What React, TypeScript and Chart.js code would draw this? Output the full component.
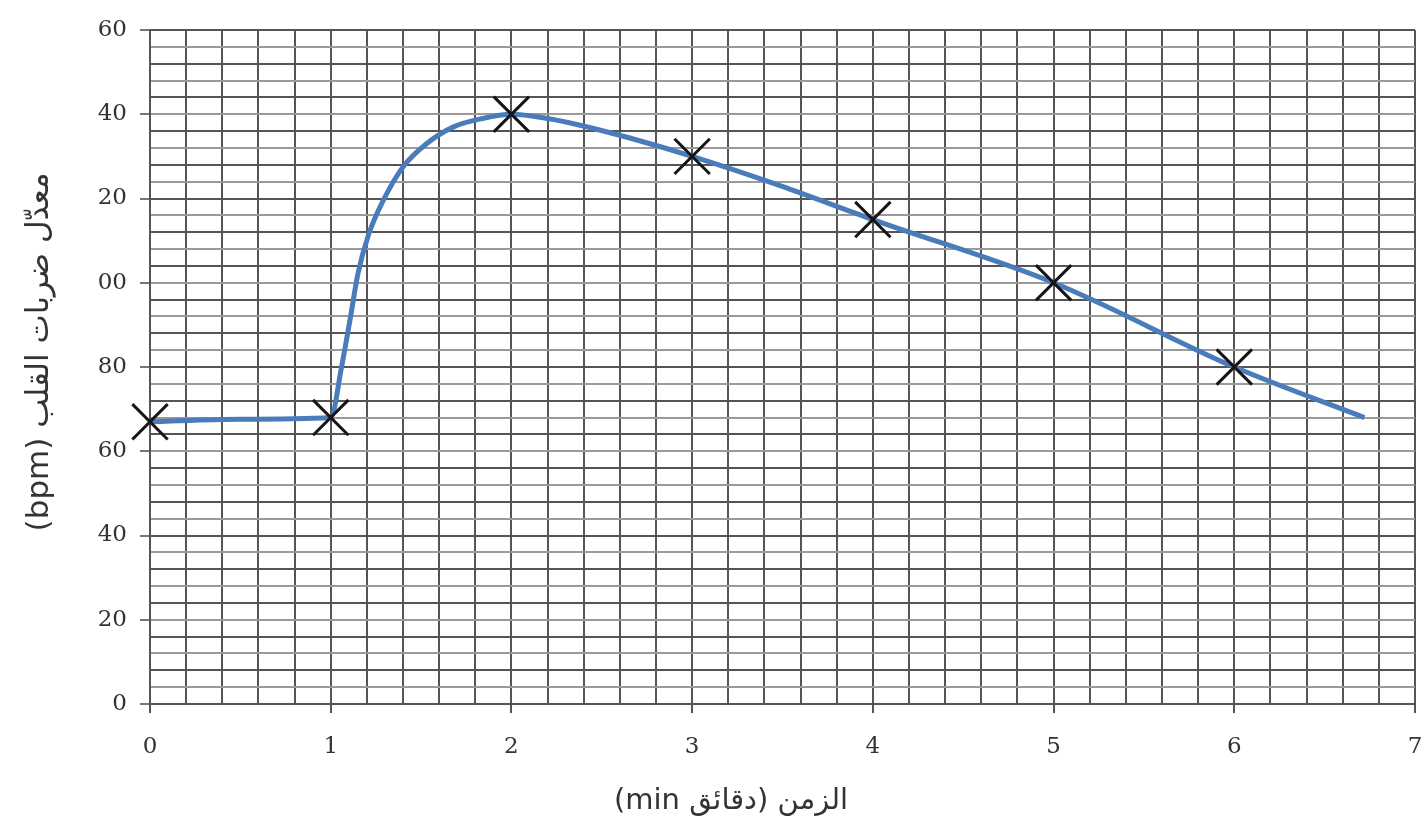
import React, { useEffect, useRef } from "react";
import { Chart, registerables } from "chart.js";

Chart.register(...registerables);

// Curve traced through the hand-drawn line (minutes, bpm)
const curveX = [0, 0.5, 1, 1.06, 1.11, 1.15, 1.21, 1.29, 1.4, 1.53, 1.68, 1.84, 2, 2.2, 2.38, 2.66, 3, 3.49, 4, 5, 6, 6.72];
const curveY = [67, 67.6, 68, 80, 92, 102, 111.5, 119.5, 127.5, 133, 137, 139, 140, 139, 137.4, 134.3, 130, 123, 115, 100, 80, 68];

// Measured points (crosses)
const pointX = [0, 1, 2, 3, 4, 5, 6];
const pointY = [67, 68, 140, 130, 115, 100, 80];

// Tick labels as printed (hundreds digit cut off in the original)
const xTickLabels = ["0", "1", "2", "3", "4", "5", "6", "7"];
const yTickLabels = ["0", "20", "40", "60", "80", "00", "20", "40", "60"];

const xTitle = "الزمن (دقائق min)";
const yTitle = "معدّل ضربات القلب (bpm)";

const isInt = (v: number) => Math.abs(v - Math.round(v)) < 1e-6;
const isMul = (v: number, m: number) => Math.abs(v / m - Math.round(v / m)) < 1e-6;

export default function App() {
  const ref = useRef<HTMLCanvasElement>(null);

  useEffect(() => {
    if (!ref.current) return;
    const titlePlugin = {
      id: "axisTitles",
      afterDraw(chart: any) {
        const ctx = chart.ctx as CanvasRenderingContext2D;
        ctx.save();
        ctx.fillStyle = "#333";
        (ctx as any).direction = "rtl";
        ctx.textAlign = "center";
        ctx.textBaseline = "middle";
        ctx.font = "29px 'DejaVu Sans'";
        ctx.fillText(xTitle, 731, 801);
        ctx.font = "31px 'DejaVu Sans'";
        ctx.translate(40, 352);
        ctx.rotate(-Math.PI / 2);
        ctx.fillText(yTitle, 0, 0);
        ctx.restore();
      },
    };

    const chart = new Chart(ref.current, {
      type: "scatter",
      data: {
        datasets: [
          {
            type: "line",
            label: "curve",
            data: curveX.map((x, i) => ({ x, y: curveY[i] })),
            borderColor: "#4a7cbb",
            borderWidth: 5,
            pointRadius: 0,
            cubicInterpolationMode: "monotone",
            fill: false,
            clip: false,
            order: 2,
          } as any,
          {
            label: "points",
            data: pointX.map((x, i) => ({ x, y: pointY[i] })),
            pointStyle: "crossRot",
            pointRadius: 25,
            pointBorderWidth: 3,
            pointBorderColor: "#151515",
            pointBackgroundColor: "#151515",
            showLine: false,
            clip: false,
            order: 1,
          } as any,
        ],
      },
      options: {
        animation: false,
        responsive: false,
        devicePixelRatio: 1,
        layout: { autoPadding: false, padding: { top: 30, right: 12, left: 0, bottom: 0 } },
        plugins: { legend: { display: false }, tooltip: { enabled: false } },
        scales: {
          x: {
            type: "linear",
            min: 0,
            max: 7,
            afterFit: (s: any) => {
              s.height = 125;
              s.paddingLeft = 0;
              s.paddingRight = 0;
            },
            ticks: {
              stepSize: 0.2,
              autoSkip: false,
              maxRotation: 0,
              padding: 20,
              color: "#333",
              font: { family: "DejaVu Serif", size: 23 },
              callback: (v: any) => (isInt(Number(v)) ? xTickLabels[Math.round(Number(v))] : ""),
            },
            grid: {
              color: "#555",
              lineWidth: 2,
              tickLength: 9,
              tickColor: (c: any) => (c.tick && isInt(c.tick.value) ? "#555" : "rgba(0,0,0,0)"),
            },
            border: { color: "#555", width: 2 },
          },
          y: {
            type: "linear",
            min: 0,
            max: 160,
            afterFit: (s: any) => {
              s.width = 150;
              s.paddingTop = 0;
              s.paddingBottom = 0;
            },
            ticks: {
              stepSize: 4,
              autoSkip: false,
              padding: 13,
              color: "#333",
              font: { family: "DejaVu Serif", size: 23 },
              callback: (v: any) => (isMul(Number(v), 20) ? yTickLabels[Math.round(Number(v) / 20)] : ""),
            },
            grid: {
              color: (c: any) => (c.tick && isMul(c.tick.value, 8) ? "#555" : "#9a9a9a"),
              lineWidth: 2,
              tickLength: 10,
              tickColor: (c: any) => (c.tick && isMul(c.tick.value, 20) ? "#777" : "rgba(0,0,0,0)"),
            },
            border: { color: "#555", width: 2 },
          },
        },
      },
      plugins: [titlePlugin],
    } as any);

    return () => chart.destroy();
  }, []);

  return (
    <div style={{ position: "fixed", left: 0, top: 0, width: 1427, height: 829, background: "#fff" }}>
      <canvas ref={ref} width={1427} height={829} style={{ display: "block", width: 1427, height: 829 }} />
    </div>
  );
}
